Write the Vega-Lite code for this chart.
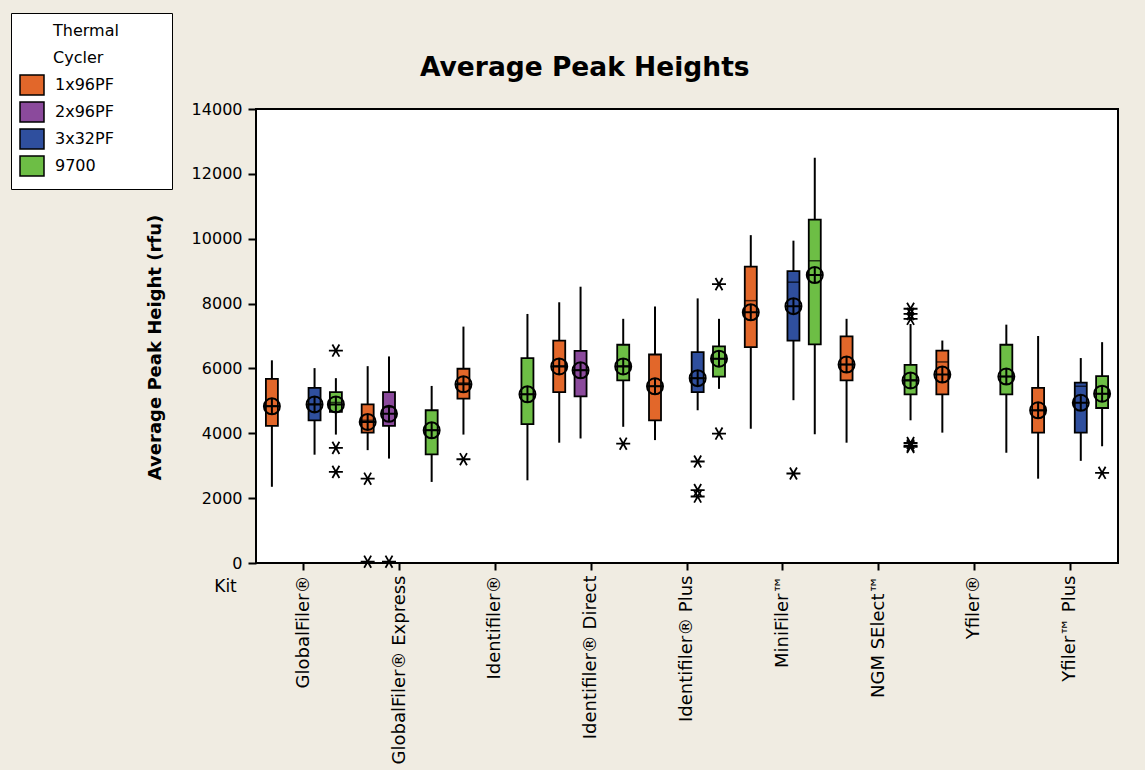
{
  "$schema": "https://vega.github.io/schema/vega-lite/v6.json",
  "autosize": {"type": "none"},
  "padding": {"left": 256, "top": 109, "right": 27, "bottom": 207},
  "width": 862,
  "height": 454,
  "background": "#F0ECE2",
  "config": {
    "font": "DejaVu Sans",
    "view": {"fill": "white", "stroke": "black", "strokeWidth": 2},
    "axis": {"labelColor": "black", "titleColor": "black", "tickColor": "black", "domain": false, "grid": false}
  },
  "title": {
    "text": "Average Peak Heights",
    "anchor": "start",
    "frame": "group",
    "dx": 164,
    "offset": -96,
    "fontSize": 26.5,
    "fontWeight": "bold",
    "color": "black",
    "baseline": "bottom"
  },
  "datasets": {
    "boxes": [
      {"kit": "GlobalFiler®", "cycler": "1x96PF", "lo": 2350, "q1": 4230, "med": 4850, "q3": 5680, "hi": 6250, "mean": 4830},
      {"kit": "GlobalFiler®", "cycler": "3x32PF", "lo": 3340, "q1": 4400, "med": 4900, "q3": 5400, "hi": 6010, "mean": 4890},
      {"kit": "GlobalFiler®", "cycler": "9700", "lo": 3960, "q1": 4660, "med": 4950, "q3": 5270, "hi": 5700, "mean": 4890},
      {"kit": "GlobalFiler® Express", "cycler": "1x96PF", "lo": 3480, "q1": 4020, "med": 4400, "q3": 4890, "hi": 6070, "mean": 4350},
      {"kit": "GlobalFiler® Express", "cycler": "2x96PF", "lo": 3220, "q1": 4230, "med": 4800, "q3": 5270, "hi": 6370, "mean": 4600},
      {"kit": "GlobalFiler® Express", "cycler": "9700", "lo": 2500, "q1": 3350, "med": 4100, "q3": 4710, "hi": 5460, "mean": 4090},
      {"kit": "Identifiler®", "cycler": "1x96PF", "lo": 3960, "q1": 5070, "med": 5550, "q3": 5990, "hi": 7290, "mean": 5510},
      {"kit": "Identifiler®", "cycler": "9700", "lo": 2550, "q1": 4280, "med": 5200, "q3": 6320, "hi": 7680, "mean": 5200},
      {"kit": "Identifiler® Direct", "cycler": "1x96PF", "lo": 3710, "q1": 5270, "med": 6080, "q3": 6860, "hi": 8040, "mean": 6060},
      {"kit": "Identifiler® Direct", "cycler": "2x96PF", "lo": 3840, "q1": 5140, "med": 5950, "q3": 6540, "hi": 8520, "mean": 5940},
      {"kit": "Identifiler® Direct", "cycler": "9700", "lo": 4200, "q1": 5630, "med": 6080, "q3": 6730, "hi": 7530, "mean": 6060},
      {"kit": "Identifiler® Plus", "cycler": "1x96PF", "lo": 3790, "q1": 4400, "med": 5450, "q3": 6430, "hi": 7910, "mean": 5450},
      {"kit": "Identifiler® Plus", "cycler": "3x32PF", "lo": 4710, "q1": 5270, "med": 5700, "q3": 6500, "hi": 8160, "mean": 5700},
      {"kit": "Identifiler® Plus", "cycler": "9700", "lo": 5370, "q1": 5750, "med": 6300, "q3": 6680, "hi": 7530, "mean": 6300},
      {"kit": "MiniFiler™", "cycler": "1x96PF", "lo": 4140, "q1": 6660, "med": 8090, "q3": 9140, "hi": 10110, "mean": 7730},
      {"kit": "MiniFiler™", "cycler": "3x32PF", "lo": 5020, "q1": 6860, "med": 8660, "q3": 9000, "hi": 9940, "mean": 7920},
      {"kit": "MiniFiler™", "cycler": "9700", "lo": 3970, "q1": 6740, "med": 9320, "q3": 10590, "hi": 12500, "mean": 8880},
      {"kit": "NGM SElect™", "cycler": "1x96PF", "lo": 3710, "q1": 5630, "med": 6120, "q3": 6990, "hi": 7530, "mean": 6120},
      {"kit": "NGM SElect™", "cycler": "9700", "lo": 4400, "q1": 5200, "med": 5650, "q3": 6110, "hi": 7370, "mean": 5630},
      {"kit": "Yfiler®", "cycler": "1x96PF", "lo": 4020, "q1": 5200, "med": 6200, "q3": 6550, "hi": 6860, "mean": 5810},
      {"kit": "Yfiler®", "cycler": "9700", "lo": 3400, "q1": 5200, "med": 5750, "q3": 6730, "hi": 7350, "mean": 5750},
      {"kit": "Yfiler™ Plus", "cycler": "1x96PF", "lo": 2600, "q1": 4020, "med": 4700, "q3": 5400, "hi": 7000, "mean": 4710},
      {"kit": "Yfiler™ Plus", "cycler": "3x32PF", "lo": 3150, "q1": 4020, "med": 5450, "q3": 5560, "hi": 6320, "mean": 4940},
      {"kit": "Yfiler™ Plus", "cycler": "9700", "lo": 3600, "q1": 4780, "med": 5220, "q3": 5760, "hi": 6810, "mean": 5220}
    ],
    "outliers": [
      {"kit": "GlobalFiler®", "cycler": "9700", "value": 6550},
      {"kit": "GlobalFiler®", "cycler": "9700", "value": 3550},
      {"kit": "GlobalFiler®", "cycler": "9700", "value": 2810},
      {"kit": "GlobalFiler® Express", "cycler": "1x96PF", "value": 2600},
      {"kit": "GlobalFiler® Express", "cycler": "1x96PF", "value": 40},
      {"kit": "GlobalFiler® Express", "cycler": "2x96PF", "value": 40},
      {"kit": "Identifiler®", "cycler": "1x96PF", "value": 3200},
      {"kit": "Identifiler® Direct", "cycler": "9700", "value": 3680},
      {"kit": "Identifiler® Plus", "cycler": "3x32PF", "value": 3130},
      {"kit": "Identifiler® Plus", "cycler": "3x32PF", "value": 2250},
      {"kit": "Identifiler® Plus", "cycler": "3x32PF", "value": 2050},
      {"kit": "Identifiler® Plus", "cycler": "9700", "value": 8600},
      {"kit": "Identifiler® Plus", "cycler": "9700", "value": 3990},
      {"kit": "MiniFiler™", "cycler": "3x32PF", "value": 2760},
      {"kit": "NGM SElect™", "cycler": "9700", "value": 7840},
      {"kit": "NGM SElect™", "cycler": "9700", "value": 7680},
      {"kit": "NGM SElect™", "cycler": "9700", "value": 7530},
      {"kit": "NGM SElect™", "cycler": "9700", "value": 3700},
      {"kit": "NGM SElect™", "cycler": "9700", "value": 3620},
      {"kit": "NGM SElect™", "cycler": "9700", "value": 3580},
      {"kit": "Yfiler™ Plus", "cycler": "9700", "value": 2780}
    ]
  },
  "encoding": {
    "x": {
      "field": "kit",
      "type": "nominal",
      "sort": null,
      "scale": {
        "domain": ["GlobalFiler®", "GlobalFiler® Express", "Identifiler®", "Identifiler® Direct", "Identifiler® Plus", "MiniFiler™", "NGM SElect™", "Yfiler®", "Yfiler™ Plus"],
        "paddingInner": 0,
        "paddingOuter": 0
      },
      "axis": {
        "title": "Kit",
        "titleX": -31,
        "titleY": 23,
        "titleAngle": 0,
        "titleAlign": "center",
        "titleBaseline": "middle",
        "titleFontWeight": "normal",
        "titleFontSize": 17,
        "labelAngle": 270,
        "labelAlign": "right",
        "labelBaseline": "middle",
        "labelFontSize": 18,
        "labelPadding": 5,
        "tickSize": 7,
        "tickWidth": 2,
        "labelLimit": 300
      }
    },
    "xOffset": {
      "field": "cycler",
      "type": "nominal",
      "scale": {"domain": ["1x96PF", "2x96PF", "3x32PF", "9700"], "paddingInner": 0, "paddingOuter": 0.245}
    }
  },
  "layer": [
    {
      "data": {"name": "boxes"},
      "mark": {"type": "rule", "color": "black", "strokeWidth": 2},
      "encoding": {
        "y": {
          "field": "lo",
          "type": "quantitative",
          "scale": {"domain": [0, 14000], "nice": false},
          "axis": {
            "title": "Average Peak Height (rfu)",
            "values": [0, 2000, 4000, 6000, 8000, 10000, 12000, 14000],
            "format": "d",
            "labelFontSize": 16,
            "labelPadding": 6,
            "tickSize": 8,
            "tickWidth": 2,
            "titleFontSize": 18,
            "titleFontWeight": "bold",
            "titleX": -101,
            "titleY": 238,
            "titleAlign": "center",
            "titleBaseline": "middle",
            "titleAngle": 270
          }
        },
        "y2": {"field": "hi"}
      }
    },
    {
      "data": {"name": "boxes"},
      "mark": {"type": "bar", "size": 12, "stroke": "black", "strokeWidth": 1.8, "opacity": 1},
      "encoding": {
        "y": {
          "field": "q1",
          "type": "quantitative",
          "scale": {"domain": [0, 14000], "nice": false},
          "axis": {
            "title": "Average Peak Height (rfu)",
            "values": [0, 2000, 4000, 6000, 8000, 10000, 12000, 14000],
            "format": "d",
            "labelFontSize": 16,
            "labelPadding": 6,
            "tickSize": 8,
            "tickWidth": 2,
            "titleFontSize": 18,
            "titleFontWeight": "bold",
            "titleX": -101,
            "titleY": 238,
            "titleAlign": "center",
            "titleBaseline": "middle",
            "titleAngle": 270
          }
        },
        "y2": {"field": "q3"},
        "color": {
          "field": "cycler",
          "type": "nominal",
          "scale": {"domain": ["1x96PF", "2x96PF", "3x32PF", "9700"], "range": ["#E2672A", "#8B4A9C", "#2F4F9E", "#6DBE45"]},
          "legend": {
            "title": ["Thermal", "Cycler"],
            "orient": "none",
            "legendX": -245,
            "legendY": -96,
            "padding": 10,
            "fillColor": "white",
            "strokeColor": "black",
            "titleFontSize": 16,
            "titleFontWeight": "normal",
            "titleColor": "black",
            "titleLineHeight": 27,
            "titleAnchor": "start",
            "titlePadding": 8,
            "labelFontSize": 16,
            "labelColor": "black",
            "labelOffset": 12,
            "rowPadding": 1,
            "symbolType": "M-1.2,-1L1.2,-1L1.2,1L-1.2,1ZM12.7,0",
            "symbolSize": 400,
            "symbolStrokeColor": "black",
            "symbolStrokeWidth": 1.5,
            "symbolOpacity": 1,
            "encode": {"title": {"update": {"dx": {"value": 32}}}}
          }
        }
      }
    },
    {
      "data": {"name": "boxes"},
      "mark": {"type": "tick", "color": "black", "size": 12, "thickness": 1.5},
      "encoding": {
        "y": {
          "field": "med",
          "type": "quantitative",
          "scale": {"domain": [0, 14000], "nice": false},
          "axis": {
            "title": "Average Peak Height (rfu)",
            "values": [0, 2000, 4000, 6000, 8000, 10000, 12000, 14000],
            "format": "d",
            "labelFontSize": 16,
            "labelPadding": 6,
            "tickSize": 8,
            "tickWidth": 2,
            "titleFontSize": 18,
            "titleFontWeight": "bold",
            "titleX": -101,
            "titleY": 238,
            "titleAlign": "center",
            "titleBaseline": "middle",
            "titleAngle": 270
          }
        }
      }
    },
    {
      "data": {"name": "boxes"},
      "mark": {
        "type": "point",
        "shape": "M-1,0A1,1 0 1,0 1,0A1,1 0 1,0 -1,0M-1,0L1,0M0,-1L0,1",
        "size": 256,
        "filled": false,
        "stroke": "black",
        "strokeWidth": 2,
        "opacity": 1
      },
      "encoding": {
        "y": {
          "field": "mean",
          "type": "quantitative",
          "scale": {"domain": [0, 14000], "nice": false},
          "axis": {
            "title": "Average Peak Height (rfu)",
            "values": [0, 2000, 4000, 6000, 8000, 10000, 12000, 14000],
            "format": "d",
            "labelFontSize": 16,
            "labelPadding": 6,
            "tickSize": 8,
            "tickWidth": 2,
            "titleFontSize": 18,
            "titleFontWeight": "bold",
            "titleX": -101,
            "titleY": 238,
            "titleAlign": "center",
            "titleBaseline": "middle",
            "titleAngle": 270
          }
        }
      }
    },
    {
      "data": {"name": "outliers"},
      "mark": {
        "type": "point",
        "shape": "M-1,0L1,0M-0.5,-0.866L0.5,0.866M-0.5,0.866L0.5,-0.866",
        "size": 196,
        "filled": false,
        "stroke": "black",
        "strokeWidth": 1.8,
        "opacity": 1
      },
      "encoding": {
        "y": {
          "field": "value",
          "type": "quantitative",
          "scale": {"domain": [0, 14000], "nice": false},
          "axis": {
            "title": "Average Peak Height (rfu)",
            "values": [0, 2000, 4000, 6000, 8000, 10000, 12000, 14000],
            "format": "d",
            "labelFontSize": 16,
            "labelPadding": 6,
            "tickSize": 8,
            "tickWidth": 2,
            "titleFontSize": 18,
            "titleFontWeight": "bold",
            "titleX": -101,
            "titleY": 238,
            "titleAlign": "center",
            "titleBaseline": "middle",
            "titleAngle": 270
          }
        }
      }
    }
  ]
}
